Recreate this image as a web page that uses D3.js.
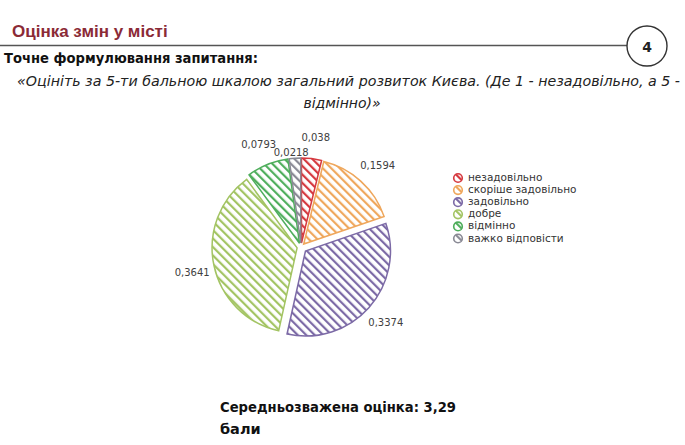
<!DOCTYPE html>
<html>
<head>
<meta charset="utf-8">
<script src="https://cdn.jsdelivr.net/npm/d3@7"></script>
<style>
  body { margin:0; background:#fff; }
  svg { display:block; }
</style>
</head>
<body>
<svg id="chart" width="685" height="445"></svg>
<script>
// answer shares, clockwise from 12 o'clock
var categories = ["незадовільно", "скоріше задовільно", "задовільно", "добре", "відмінно", "важко відповісти"]
var shares = [0.038, 0.1594, 0.3374, 0.3641, 0.0793, 0.0218]
var shareLabels = ["0,038", "0,1594", "0,3374", "0,3641", "0,0793", "0,0218"]
var colors = ["#d63a40", "#efa75c", "#7c6aa6", "#a3c463", "#4fae5c", "#8a8a95"]

var svg = d3.select("#chart")
var defs = svg.append("defs")

// downward diagonal hatch, one per colour
colors.forEach(function(c, i) {
  var p = defs.append("pattern")
    .attr("id", "hatch" + i)
    .attr("patternUnits", "userSpaceOnUse")
    .attr("width", 6).attr("height", 6)
    .attr("patternTransform", "rotate(-45)")
  p.append("rect").attr("width", 6).attr("height", 6).attr("fill", "#fff")
  p.append("rect").attr("x", 0).attr("width", 2.2).attr("height", 6).attr("fill", c)
})

// header
svg.append("text").attr("x", 12).attr("y", 37)
  .attr("font-family", "Liberation Sans, Arial, sans-serif").attr("font-weight", "bold")
  .attr("font-size", 17).attr("fill", "#8b2a36")
  .text("Оцінка змін у місті")
svg.append("line").attr("x1", 0).attr("x2", 627).attr("y1", 45.5).attr("y2", 45.5)
  .attr("stroke", "#555").attr("stroke-width", 1.6)
svg.append("circle").attr("cx", 647).attr("cy", 46).attr("r", 20)
  .attr("fill", "#fff").attr("stroke", "#333").attr("stroke-width", 1.4)
svg.append("text").attr("x", 647).attr("y", 52).attr("text-anchor", "middle")
  .attr("font-family", "DejaVu Sans, sans-serif").attr("font-weight", "bold")
  .attr("font-size", 14).attr("fill", "#222").text("4")

svg.append("text").attr("x", 4).attr("y", 63)
  .attr("font-family", "DejaVu Sans, sans-serif").attr("font-weight", "bold")
  .attr("font-size", 14.5).attr("fill", "#111")
  .attr("textLength", 254).attr("lengthAdjust", "spacingAndGlyphs")
  .text("Точне формулювання запитання:")
svg.append("text").attr("x", 17).attr("y", 86)
  .attr("font-family", "DejaVu Sans, sans-serif").attr("font-style", "italic")
  .attr("font-size", 14).attr("fill", "#222")
  .attr("textLength", 663).attr("lengthAdjust", "spacingAndGlyphs")
  .text("«Оцініть за 5-ти бальною шкалою загальний розвиток Києва. (Де 1 - незадовільно, а 5 -")
svg.append("text").attr("x", 342).attr("y", 108).attr("text-anchor", "middle")
  .attr("font-family", "DejaVu Sans, sans-serif").attr("font-style", "italic")
  .attr("font-size", 14).attr("fill", "#222")
  .text("відмінно)»")

// pie
var cx = 301, cy = 247, r = 85
var explode = [4, 4, 6, 4, 4, 4]
var pie = d3.pie().sort(null).value(function(d) { return d })
var arcs = pie(shares)
var arc = d3.arc().innerRadius(0).outerRadius(r)
var g = svg.append("g").attr("transform", "translate(" + cx + "," + cy + ")")

g.selectAll("path.slice").data(arcs).enter().append("path")
  .attr("class", "slice")
  .attr("transform", function(d, i) {
    var a = (d.startAngle + d.endAngle) / 2
    return "translate(" + (Math.sin(a) * explode[i]) + "," + (-Math.cos(a) * explode[i]) + ")"
  })
  .attr("d", arc)
  .attr("fill", function(d, i) { return "url(#hatch" + i + ")" })
  .attr("stroke", function(d, i) { return colors[i] })
  .attr("stroke-width", 1.5)

// data labels, placed outside the slices
var labelArc = d3.arc().innerRadius(r + 14).outerRadius(r + 14)
var labelNudge = [[3, -11], [10, -8], [11, 10], [-12, 6], [-5, -10], [-3, 5]]
g.selectAll("text.lbl").data(arcs).enter().append("text")
  .attr("class", "lbl")
  .attr("x", function(d, i) { return labelArc.centroid(d)[0] + labelNudge[i][0] })
  .attr("y", function(d, i) { return labelArc.centroid(d)[1] + labelNudge[i][1] })
  .attr("text-anchor", "middle").attr("dominant-baseline", "middle")
  .attr("font-family", "DejaVu Sans, sans-serif").attr("font-size", 10).attr("fill", "#404040")
  .text(function(d, i) { return shareLabels[i] })

// legend
var legend = svg.append("g").attr("transform", "translate(458,178)")
var item = legend.selectAll("g").data(categories).enter().append("g")
  .attr("transform", function(d, i) { return "translate(0," + (i * 12.1) + ")" })
item.append("circle").attr("r", 4.3)
  .attr("fill", function(d, i) { return "url(#hatch" + i + ")" })
  .attr("stroke", function(d, i) { return colors[i] }).attr("stroke-width", 1.6)
item.append("text").attr("x", 10).attr("y", 0).attr("dominant-baseline", "middle")
  .attr("font-family", "DejaVu Sans, sans-serif").attr("font-size", 10.5).attr("fill", "#333")
  .text(function(d) { return d })

// weighted mean
svg.append("text").attr("x", 220).attr("y", 412)
  .attr("font-family", "DejaVu Sans, sans-serif").attr("font-weight", "bold")
  .attr("font-size", 14.5).attr("fill", "#111")
  .attr("textLength", 236).attr("lengthAdjust", "spacingAndGlyphs")
  .text("Середньозважена оцінка: 3,29")
svg.append("text").attr("x", 220).attr("y", 434)
  .attr("font-family", "DejaVu Sans, sans-serif").attr("font-weight", "bold")
  .attr("font-size", 14.5).attr("fill", "#111")
  .text("бали")
</script>
</body>
</html>
